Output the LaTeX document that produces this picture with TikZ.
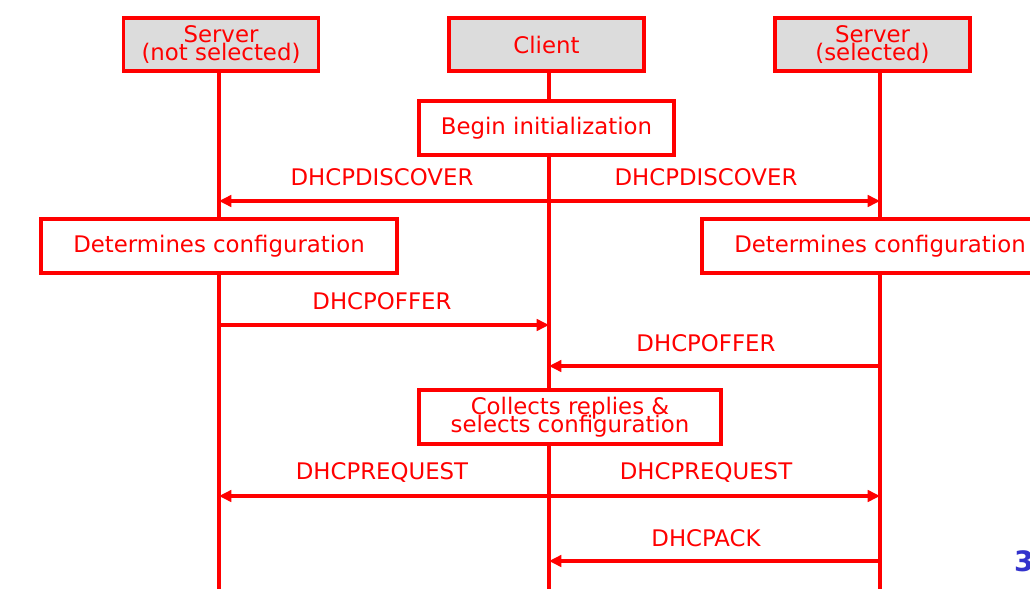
\documentclass[tikz,border=0pt]{standalone}
\usepackage{fontspec}
\setmainfont{DejaVu Sans}
\usetikzlibrary{positioning}
\usetikzlibrary{arrows.meta}

\definecolor{dhcpred}{RGB}{255,0,0}
\definecolor{hdrgrey}{RGB}{220,220,220}
\definecolor{slideblue}{RGB}{51,51,204}

\newcommand{\boxfont}{\fontsize{13}{10.5}\selectfont\setlength{\lineskiplimit}{-20pt}\relax}

\tikzset{
  actor/.style={draw=dhcpred,fill=hdrgrey,line width=2pt,inner sep=0pt,
    minimum width=3.9cm,minimum height=1.06cm,text=dhcpred,align=center,
    font=\boxfont},
  action/.style={draw=dhcpred,fill=white,line width=2pt,inner sep=0pt,
    minimum height=1.08cm,text=dhcpred,align=center,
    font=\boxfont},
  lifeline/.style={draw=dhcpred,line width=2pt},
  msg/.style={draw=dhcpred,line width=2pt,-{Triangle[length=7pt,width=6.5pt]}},
  msglabel/.style={text=dhcpred,font=\fontsize{13}{15}\selectfont,inner sep=0pt}
}

\begin{document}
\begin{tikzpicture}[x=0.02cm,y=-0.02cm]
  \useasboundingbox (0,0) rectangle (1030,588);
  \clip (0,0) rectangle (1030,588);

  % Place actors
  \node [actor] (srvA) at (221,44.5) {Server\\(not selected)};
  \node [actor] (client) at (546.5,44.5) {Client};
  \node [actor] (srvB) at (872.5,44.5) {Server\\(selected)};

  % Lifelines
  \coordinate (endA) at (219,600);
  \coordinate (endC) at (549,600);
  \coordinate (endB) at (880,600);
  \draw [lifeline] (srvA.south -| endA) -- (endA);
  \draw [lifeline] (client.south -| endC) -- (endC);
  \draw [lifeline] (srvB.south -| endB) -- (endB);

  % Actions
  \node [action,minimum width=5.1cm] (init) at (546.5,128) {Begin initialization};
  \node [action,minimum width=7.12cm] (confA) at (219,246) {Determines configuration};
  \node [action,minimum width=7.12cm] (confB) at (880,246) {Determines configuration};
  \node [action,minimum width=6.04cm] (collect) at (570,417) {Collects replies \&\\selects configuration};

  % Messages
  \coordinate (discC) at (549,201);
  \coordinate (discA) at (219,201);
  \coordinate (discB) at (880,201);
  \draw [msg] (discC) -- (discA);
  \draw [msg] (discC) -- (discB);
  \node [msglabel] (discLblA) at (382,177) {DHCPDISCOVER};
  \node [msglabel] (discLblB) at (706,177) {DHCPDISCOVER};

  \coordinate (offA) at (219,325);
  \coordinate (offC) at (549,325);
  \draw [msg] (offA) -- (offC);
  \node [msglabel] (offLblA) at (382,301) {DHCPOFFER};

  \coordinate (offB) at (880,366);
  \coordinate (offC2) at (549,366);
  \draw [msg] (offB) -- (offC2);
  \node [msglabel] (offLblB) at (706,343) {DHCPOFFER};

  \coordinate (reqC) at (549,496);
  \coordinate (reqA) at (219,496);
  \coordinate (reqB) at (880,496);
  \draw [msg] (reqC) -- (reqA);
  \draw [msg] (reqC) -- (reqB);
  \node [msglabel] (reqLblA) at (382,472) {DHCPREQUEST};
  \node [msglabel] (reqLblB) at (706,472) {DHCPREQUEST};

  \coordinate (ackB) at (880,561);
  \coordinate (ackC) at (549,561);
  \draw [msg] (ackB) -- (ackC);
  \node [msglabel] (ackLbl) at (706,538) {DHCPACK};

  % Slide number
  \node [text=slideblue,font=\fontsize{16}{18}\bfseries\selectfont,inner sep=0pt] (pageno) at (1024,561) {3};
\end{tikzpicture}
\end{document}
